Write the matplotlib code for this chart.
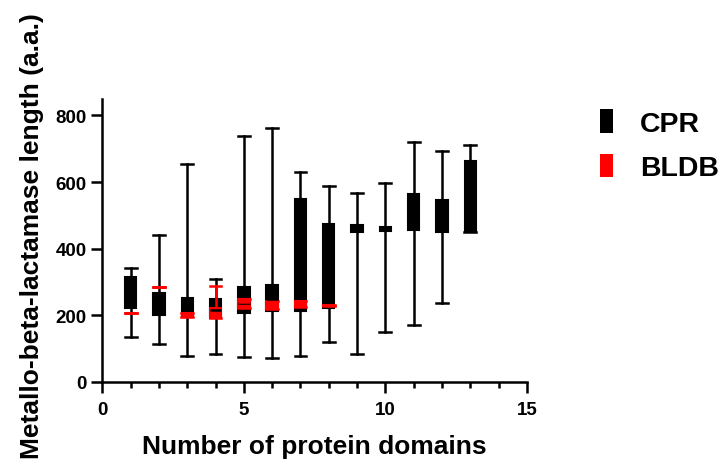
import matplotlib
matplotlib.use("Agg")
import matplotlib.pyplot as plt
from matplotlib.patches import Patch

plt.rcParams['font.family'] = ['Liberation Sans', 'DejaVu Sans']
plt.rcParams['font.weight'] = 'bold'

# CPR box stats (number of domains 1..13)
cpr_pos = [1, 2, 3, 4, 5, 6, 7, 8, 9, 10, 11, 12, 13]
cpr_min = [136, 113, 78, 83, 73, 70, 78, 121, 83, 151, 171, 238, 449]
cpr_q1 = [221, 200, 198, 198, 208, 213, 213, 223, 450, 453, 455, 450, 450]
cpr_med = [265, 262, 238, 216, 238, 250, 353, 450, 458, 458, 458, 455, 563]
cpr_q3 = [315, 266, 251, 250, 285, 292, 550, 473, 470, 464, 563, 545, 663]
cpr_max = [343, 442, 653, 310, 739, 762, 630, 587, 566, 596, 720, 694, 711]

# BLDB box stats (1..8)
bldb_pos = [1, 2, 3, 4, 5, 6, 7, 8]
bldb_min = [206, 284, 194, 193, 221, 220, 226, 228]
bldb_q1 = [206, 284, 196, 193, 221, 220, 226, 228]
bldb_med = [206, 284, 200, 205, 240, 232, 233, 230]
bldb_q3 = [206, 284, 208, 223, 250, 243, 243, 232]
bldb_max = [206, 284, 208, 288, 250, 243, 243, 232]


def stats(lo, q1, med, q3, hi):
    return [dict(whislo=a, q1=b, med=c, q3=d, whishi=e, fliers=[])
            for a, b, c, d, e in zip(lo, q1, med, q3, hi)]


fig = plt.figure(figsize=(7.2, 4.64), dpi=100)
ax = fig.add_axes([0.142, 0.175, 0.590, 0.610])

for st, pos, col in [(stats(cpr_min, cpr_q1, cpr_med, cpr_q3, cpr_max), cpr_pos, 'black'),
                     (stats(bldb_min, bldb_q1, bldb_med, bldb_q3, bldb_max), bldb_pos, '#ff0000')]:
    ax.bxp(st, positions=pos, widths=0.4, capwidths=0.42, patch_artist=True,
           showfliers=False, manage_ticks=False,
           boxprops=dict(facecolor=col, edgecolor=col, linewidth=1.5),
           whiskerprops=dict(color=col, linewidth=1.8),
           capprops=dict(color=col, linewidth=1.8),
           medianprops=dict(color=col, linewidth=1.8))

ax.set_xlim(0, 15)
ax.set_ylim(0, 850)
ax.set_xticks([0, 5, 10, 15])
ax.set_xticks(range(0, 16), minor=True)
ax.set_yticks([0, 200, 400, 600, 800])
for s in ['top', 'right']:
    ax.spines[s].set_visible(False)
for s in ['left', 'bottom']:
    ax.spines[s].set_linewidth(1.8)
ax.tick_params(which='major', length=8, width=1.8, labelsize=13.5, pad=3)
ax.tick_params(axis='x', which='major', pad=6)
ax.tick_params(which='minor', length=4, width=1.8)
ax.tick_params(axis='y', which='minor', left=False)

ax.set_xlabel('Number of protein domains', fontsize=19, fontweight='bold', labelpad=11)
fig.text(0.045, 1 - 13 / 464, 'Metallo-beta-lactamase length (a.a.)', rotation=90,
         ha='center', va='top', fontsize=19, fontweight='bold')

handles = [Patch(facecolor='black', edgecolor='none'), Patch(facecolor='#ff0000', edgecolor='none')]
fig.legend(handles, ['CPR', 'BLDB'], loc='upper left', bbox_to_anchor=(0.833, 0.762),
           frameon=False, prop=dict(size=20.5, weight='bold'), handlelength=0.47,
           handleheight=0.88, handletextpad=0.95, labelspacing=0.6, borderpad=0,
           borderaxespad=0)

fig.savefig('out.png', dpi=100)
